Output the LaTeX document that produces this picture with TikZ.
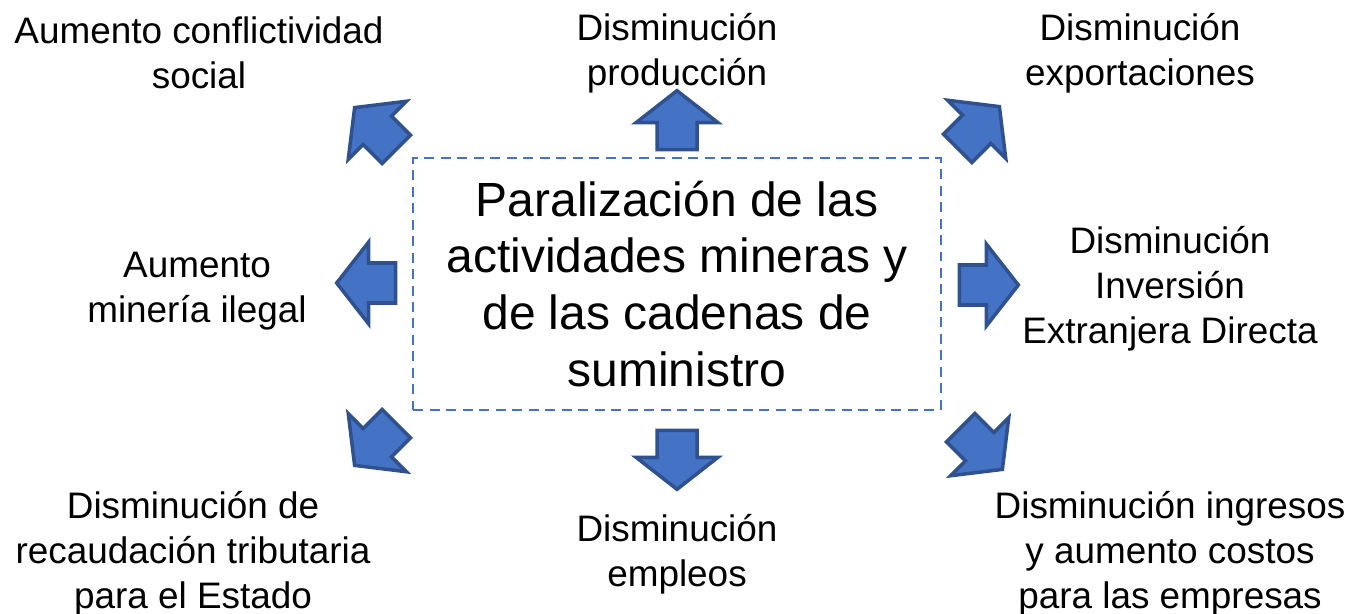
\documentclass[tikz,border=0pt]{standalone}
\usepackage{fontspec}
\setmainfont{Liberation Sans}
\usepackage{xcolor}
\usepackage{tikz}
\usetikzlibrary{shapes,arrows,positioning,calc}

\definecolor{arrowfill}{HTML}{4472C4}
\definecolor{arrowline}{HTML}{2F528F}

\tikzset{
    lbl/.style={align=center, inner sep=0pt, font=\fontsize{21}{25.5}\selectfont},
    bigarrow/.style={single arrow, draw=arrowline, fill=arrowfill, line width=2pt,
        inner xsep=0pt, inner ysep=0.365cm, minimum width=1pt, minimum height=1.18cm,
        single arrow head extend=0.42cm, single arrow tip angle=104},
}

\begin{document}
\begin{tikzpicture}[x=0.02cm, y=-0.02cm]
    \useasboundingbox (0,0) rectangle (1354,614);

    % Central box
    \node[draw=arrowfill, dash pattern=on 0.2cm off 0.13cm, line width=1.1pt,
          minimum width=10.56cm, minimum height=5.04cm, align=center,
          font=\fontsize{27.3}{32.4}\selectfont] (core) at (677,284)
          {Paralización de las\\actividades mineras y\\de las cadenas de\\suministro};

    % Block arrows around the box
    \node[bigarrow, rotate=135] (anw) at (381,134) {};
    \node[bigarrow, rotate=90]  (an)  at (677,128) {};
    \node[bigarrow, rotate=45]  (ane) at (973,133) {};
    \node[bigarrow, rotate=180] (aw)  at (374,283) {};
    \node[bigarrow]             (ae)  at (981,285) {};
    \node[bigarrow, rotate=225] (asw) at (381,439) {};
    \node[bigarrow, rotate=-90] (as)  at (677,452) {};
    \node[bigarrow, rotate=-45] (ase) at (976,443) {};

    % Effects
    \node[lbl] (conflict) at (199,53)  {Aumento conflictividad\\social};
    \node[lbl] (prod)     at (677,53)  {Disminución\\producción};
    \node[lbl] (export)   at (1140,53) {Disminución\\exportaciones};
    \node[lbl] (illegal)  at (197,291) {Aumento\\minería ilegal};
    \node[lbl] (invest)   at (1170,289) {Disminución\\Inversión\\Extranjera Directa};
    \node[lbl] (tax)      at (193,554) {Disminución de\\recaudación tributaria\\para el Estado};
    \node[lbl] (jobs)     at (677,554) {Disminución\\empleos};
    \node[lbl] (income)   at (1170,554) {Disminución ingresos\\y aumento costos\\para las empresas};
\end{tikzpicture}
\end{document}
